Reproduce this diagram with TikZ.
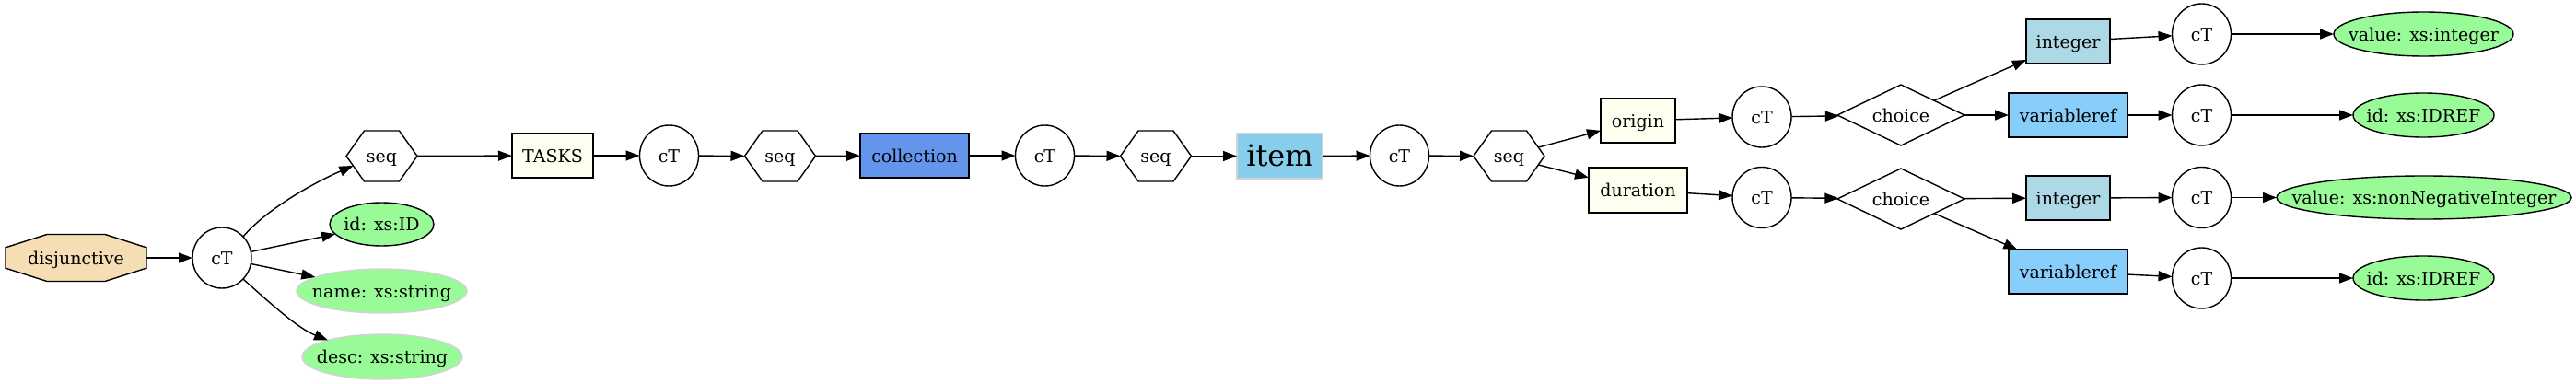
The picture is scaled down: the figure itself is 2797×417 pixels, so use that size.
\documentclass[tikz,border=0pt]{standalone}
\usepackage{fontspec}
\setmainfont{DejaVu Serif}
\usetikzlibrary{shapes.geometric,arrows.meta}
\definecolor{wheatc}{HTML}{F5DEB3}
\definecolor{palegreenc}{HTML}{98FB98}
\definecolor{ivoryc}{HTML}{FFFFF0}
\definecolor{cornflowerc}{HTML}{6495ED}
\definecolor{skybluec}{HTML}{87CEEB}
\definecolor{lightbluec}{HTML}{ADD8E6}
\definecolor{lightskybluec}{HTML}{87CEFA}
\definecolor{lgrayc}{HTML}{D3D3D3}
\newcommand{\zb}[1]{\makebox[0pt]{#1}}
\newcommand{\myhex}[1]{\draw[line width=0.7pt] ([shift={(-38.5,0)}]#1.center) -- ([shift={(-19,-27.5)}]#1.center) -- ([shift={(19,-27.5)}]#1.center) -- ([shift={(38.5,0)}]#1.center) -- ([shift={(19,27.5)}]#1.center) -- ([shift={(-19,27.5)}]#1.center) -- cycle;}
\tikzset{
  lbl/.style={font=\fontsize{9.5pt}{11pt}\selectfont, inner sep=0pt, outer sep=0pt, line width=0.7pt, text height=9.5pt, text depth=2.2pt},
  ctnode/.style={lbl, ellipse, draw, fill=white, minimum width=32pt, minimum height=33pt},
  hexbox/.style={lbl, rectangle, minimum width=38.5pt, minimum height=27.5pt},
  boxnode/.style={lbl, rectangle, draw, minimum height=24pt},
  attr/.style={lbl, ellipse, draw, fill=palegreenc, minimum height=24pt},
  attrlite/.style={attr, draw=lgrayc},
  choicenode/.style={lbl, diamond, draw, fill=white, minimum width=69pt, minimum height=33pt},
  arr/.style={line width=0.7pt, -{Triangle[length=7.5pt,width=5.5pt]}},
}
\begin{document}
\begin{tikzpicture}[x=0.5pt,y=-0.5pt]
\useasboundingbox (0,0) rectangle (2797,417);
\path[fill=white] (0,0) rectangle (2797,417);
% octagon
\coordinate (dc) at (82.5,280);
\draw[line width=0.7pt, fill=wheatc] ([shift={(-76.5,-11.2)}]dc) -- ([shift={(-31.5,-25.5)}]dc) -- ([shift={(31.5,-25.5)}]dc) -- ([shift={(76.5,-11.2)}]dc) -- ([shift={(76.5,11.2)}]dc) -- ([shift={(31.5,25.5)}]dc) -- ([shift={(-31.5,25.5)}]dc) -- ([shift={(-76.5,11.2)}]dc) -- cycle;
\node[lbl, rectangle, minimum width=76.5pt, minimum height=25.5pt] (disj) at (dc) {\zb{disjunctive}};
\node[ctnode] (ct1) at (241,280) {\zb{cT}};
\node[hexbox] (seq1) at (414.5,169.5) {\zb{seq}};
\myhex{seq1}
\node[attr, minimum width=56.5pt, minimum height=23.5pt] (id1) at (414.5,243.5) {\zb{id: xs:ID}};
\node[attrlite, minimum width=92.5pt] (name1) at (414.5,316) {\zb{name: xs:string}};
\node[attrlite, minimum width=87pt, minimum height=24.5pt] (desc1) at (415,387.5) {\zb{desc: xs:string}};
\node[boxnode, fill=ivoryc, minimum width=44pt] (tasks) at (600,169) {\zb{TASKS}};
\node[ctnode] (ct2) at (726.5,169) {\zb{cT}};
\node[hexbox] (seq2) at (847,169.5) {\zb{seq}};
\myhex{seq2}
\node[boxnode, fill=cornflowerc, minimum width=59pt] (coll) at (993,169) {\zb{collection}};
\node[ctnode] (ct3) at (1134.5,169) {\zb{cT}};
\node[hexbox] (seq3) at (1255,169.5) {\zb{seq}};
\myhex{seq3}
\node[boxnode, fill=skybluec, draw=lgrayc, minimum width=46.5pt, minimum height=24.5pt, font=\fontsize{16pt}{18pt}\selectfont, text height=15pt, text depth=3.5pt] (item) at (1389.5,169.5) {\zb{item}};
\node[ctnode] (ct4) at (1519.5,169) {\zb{cT}};
\node[hexbox] (seq4) at (1638.5,169.5) {\zb{seq}};
\myhex{seq4}
\node[boxnode, fill=ivoryc, minimum width=40.5pt] (origin) at (1778.5,131) {\zb{origin}};
\node[boxnode, fill=ivoryc, minimum width=53.5pt, minimum height=24.5pt] (duration) at (1778.5,206.5) {\zb{duration}};
\node[ctnode] (ct5) at (1913,127) {\zb{cT}};
\node[ctnode] (ct6) at (1913,214.5) {\zb{cT}};
\node[choicenode] (ch1) at (2064,125) {\zb{choice}};
\node[choicenode] (ch2) at (2064,216) {\zb{choice}};
\node[boxnode, fill=lightbluec, minimum width=45.5pt] (int1) at (2245.5,45) {\zb{integer}};
\node[boxnode, fill=lightskybluec, minimum width=64.5pt] (var1) at (2245.5,125) {\zb{variableref}};
\node[boxnode, fill=lightbluec, minimum width=45.5pt] (int2) at (2245.5,215) {\zb{integer}};
\node[boxnode, fill=lightskybluec, minimum width=64.5pt] (var2) at (2245.5,295) {\zb{variableref}};
\node[ctnode] (ct7) at (2390.5,37) {\zb{cT}};
\node[ctnode] (ct8) at (2390.5,125) {\zb{cT}};
\node[ctnode] (ct9) at (2390.5,214.5) {\zb{cT}};
\node[ctnode] (ct10) at (2390.5,302) {\zb{cT}};
\node[attr, minimum width=97.5pt] (val1) at (2631.5,37) {\zb{value: xs:integer}};
\node[attr, minimum width=76.5pt] (idref1) at (2631.5,125) {\zb{id: xs:IDREF}};
\node[attr, minimum width=160pt, minimum height=23.5pt] (val2) at (2632,214.5) {\zb{value: xs:nonNegativeInteger}};
\node[attr, minimum width=76.5pt] (idref2) at (2631.5,302) {\zb{id: xs:IDREF}};
% edges
\draw[arr] (disj) -- (ct1);
\draw[arr] (ct1.45) .. controls +(28,-33) and +(-35,15) .. ([shift={(7.4,10.5)}]seq1.west);
\draw[arr] (ct1) -- (id1);
\draw[arr] (ct1) -- (name1);
\draw[arr] (ct1.-45) .. controls +(28,25) and +(-33,-13) .. (desc1.163);
\draw[arr] (seq1) -- (tasks);
\draw[arr] (tasks) -- (ct2);
\draw[arr] (ct2) -- (seq2);
\draw[arr] (seq2) -- (coll);
\draw[arr] (coll) -- (ct3);
\draw[arr] (ct3) -- (seq3);
\draw[arr] (seq3) -- (item);
\draw[arr] (item) -- (ct4);
\draw[arr] (ct4) -- (seq4);
\draw[arr] ([shift={(-6.5,-9.5)}]seq4.east) -- (origin);
\draw[arr] ([shift={(-6.5,9.5)}]seq4.east) -- (duration);
\draw[arr] (origin) -- (ct5);
\draw[arr] (duration) -- (ct6);
\draw[arr] (ct5) -- (ch1);
\draw[arr] (ct6) -- (ch2);
\draw[arr] (ch1) -- (int1);
\draw[arr] (ch1) -- (var1);
\draw[arr] (ch2) -- (int2);
\draw[arr] (ch2) -- (var2);
\draw[arr] (int1) -- (ct7);
\draw[arr] (var1) -- (ct8);
\draw[arr] (int2) -- (ct9);
\draw[arr] (var2) -- (ct10);
\draw[arr] (ct7) -- (val1);
\draw[arr] (ct8) -- (idref1);
\draw[arr] (ct9) -- (val2);
\draw[arr] (ct10) -- (idref2);
\end{tikzpicture}
\end{document}
